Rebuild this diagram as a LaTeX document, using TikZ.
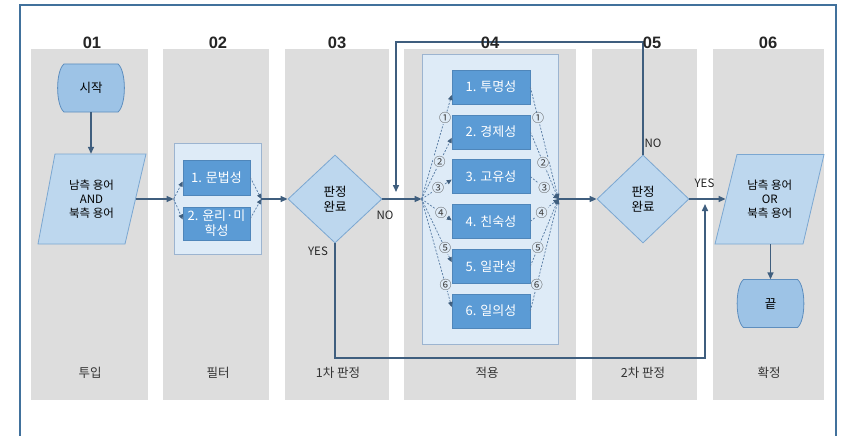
\documentclass[tikz,border=0pt]{standalone}
\usepackage{fontspec}
\setmainfont{Noto Sans CJK KR}
\newfontfamily\headfont{Liberation Sans}
\usetikzlibrary{shapes.geometric,arrows.meta,calc}
\definecolor{framec}{HTML}{41719C}
\definecolor{colgray}{HTML}{DDDDDD}
\definecolor{contfill}{HTML}{DEEBF7}
\definecolor{contdraw}{HTML}{9CB4D0}
\definecolor{boxfill}{HTML}{5B9BD5}
\definecolor{boxdraw}{HTML}{4F86BA}
\definecolor{shapefill}{HTML}{BDD7EE}
\definecolor{shapedraw}{HTML}{7BA7D1}
\definecolor{termfill}{HTML}{9DC3E6}
\definecolor{termdraw}{HTML}{5E8EBE}
\definecolor{linec}{HTML}{3F5E7E}
\definecolor{dashc}{HTML}{5C7FA6}
\newcommand\termpath[2]{\filldraw[fill=termfill, draw=termdraw, line width=0.8pt] (#1-27,#2-24) -- (#1+27,#2-24) .. controls (#1+35.5,#2-17) and (#1+35.5,#2+17) .. (#1+27,#2+24) -- (#1-27,#2+24) .. controls (#1-35.5,#2+17) and (#1-35.5,#2-17) .. (#1-27,#2-24) -- cycle;}
\begin{document}
\begin{tikzpicture}[x=1pt,y=-1pt,
  col/.style={fill=colgray, draw=none},
  hd/.style={font=\headfont\bfseries\fontsize{16.5}{19}\selectfont, text=black!85, inner sep=0pt},
  ft/.style={font=\fontsize{12.5}{15}\selectfont, text=black!80, inner sep=0pt},
  term/.style={rectangle, minimum width=66pt, minimum height=48pt, inner sep=0pt, font=\fontsize{12.5}{14}\selectfont},
  paratext/.style={rectangle, minimum width=88pt, minimum height=90pt, inner sep=0pt, align=center, font=\fontsize{11.5}{14}\selectfont},
  parafill/.style={fill=shapefill, draw=shapedraw, line width=0.8pt},
  dia/.style={diamond, fill=shapefill, draw=shapedraw, line width=0.8pt, minimum width=94pt, minimum height=88pt, inner sep=0pt, align=center, font=\fontsize{12.5}{15}\selectfont},
  cont/.style={rectangle, fill=contfill, draw=contdraw, line width=0.8pt, inner sep=0pt},
  bx/.style={rectangle, fill=boxfill, draw=boxdraw, line width=0.6pt, minimum width=78pt, minimum height=34pt, inner sep=0pt, text=white, align=center, font=\fontsize{13}{15}\selectfont},
  arr/.style={draw=linec, line width=1.5pt, -{Triangle[length=7pt,width=6pt]}},
  darr/.style={draw=dashc, line width=0.75pt, dash pattern=on 2pt off 1.5pt, -{Triangle[length=5pt,width=4.5pt,color=linec]}},
  num/.style={font=\fontsize{12}{13}\selectfont, inner sep=0.2pt, fill=contfill, text=black!75},
  yn/.style={font=\fontsize{11.5}{13}\selectfont, text=black!85, inner sep=0pt}]
\useasboundingbox (0,0) rectangle (844,436);
\fill[white] (0,0) rectangle (844,436);
% frame
\draw[framec, line width=2pt] (20,440) -- (20,5) -- (836,5) -- (836,440);
% columns
\fill[col] (31,49) rectangle (148,400);
\fill[col] (163,49) rectangle (269,400);
\fill[col] (285,49) rectangle (389,400);
\fill[col] (404,49) rectangle (576,400);
\fill[col] (592,49) rectangle (697,400);
\fill[col] (713,49) rectangle (824,400);
% containers
\node[cont, minimum width=87pt, minimum height=111pt] (filt) at (217.5,199) {};
\node[cont, minimum width=136pt, minimum height=290pt] (apply) at (490,199) {};
% shapes drawn directly
\termpath{91}{88}
\termpath{770.5}{303.5}
\filldraw[parafill] (55,154) -- (146,154) -- (125,244) -- (38,244) -- cycle;
\filldraw[parafill] (737,154.5) -- (824,154.5) -- (803,244) -- (715,244) -- cycle;
% nodes
\node[term] (start) at (91,88) {시작};
\node[paratext] (in) at (91.5,199) {남측 용어\\AND\\북측 용어};
\node[bx, minimum width=67pt, minimum height=35pt] (f1) at (216.5,177.5) {1. 문법성};
\node[bx, minimum width=67pt, minimum height=33pt] (f2) at (216.5,223.5) {2. 윤리·미\\학성};
\node[dia] (d1) at (335,199) {판정\\완료};
\node[bx] (b1) at (491,87) {1. 투명성};
\node[bx] (b2) at (491,131.8) {2. 경제성};
\node[bx] (b3) at (491,176.6) {3. 고유성};
\node[bx] (b4) at (491,221.4) {4. 친숙성};
\node[bx] (b5) at (491,266.2) {5. 일관성};
\node[bx] (b6) at (491,311) {6. 일의성};
\node[dia, minimum width=92pt] (d2) at (643,199) {판정\\완료};
\node[paratext] (out) at (769.75,199) {남측 용어\\OR\\북측 용어};
\node[term] (end) at (770.5,303.5) {끝};
% coordinates
\coordinate (fbtop) at (0,42);
\coordinate (fbend) at (396,192);
\coordinate (ybot) at (0,358);
\coordinate (yend) at (705,204);
% solid connectors
\draw[arr] (start.south) -- (start.south |- in.north);
\draw[arr] (in.east) -- (filt.west);
\draw[arr] (filt.east) -- (d1.west);
\draw[arr] (d1.east) -- (d1.east -| apply.west);
\draw[arr] (apply.east) -- (d2.west);
\draw[arr] (d2.east) -- (d2.east -| out.west);
\draw[arr] (end.north |- out.south) -- (end.north);
\draw[arr] (d2.north) -- (d2.north |- fbtop) -| (fbend);
\draw[arr] (d1.south) -- (d1.south |- ybot) -| (yend);
% filter dashed
\draw[darr] (filt.west) -- ([yshift=-4pt]f1.west);
\draw[darr] (filt.west) -- ([yshift=4pt]f2.west);
\draw[darr] (f1.east) -- (filt.east);
\draw[darr] ([yshift=5pt]f2.east) -- (filt.east);
% apply dashed
\coordinate (aL) at (apply.west);
\coordinate (aR) at (apply.east);
\draw[darr] (aL) -- node[num,pos=0.78]{①} ([yshift=-8pt]b1.west);
\draw[darr] (aL) -- node[num,pos=0.6]{②} ([yshift=-6pt]b2.west);
\draw[darr] (aL) -- node[num,pos=0.55]{③} ([yshift=-3pt]b3.west);
\draw[darr] (aL) -- node[num,pos=0.65]{④} ([yshift=1pt]b4.west);
\draw[darr] (aL) -- node[num,pos=0.78]{⑤} ([yshift=4pt]b5.west);
\draw[darr] (aL) -- node[num,pos=0.8]{⑥} ([yshift=4pt]b6.west);
\draw[darr] (b1.east) -- node[num,pos=0.28]{①} (aR);
\draw[darr] (b2.east) -- node[num,pos=0.46]{②} (aR);
\draw[darr] (b3.east) -- node[num,pos=0.5]{③} (aR);
\draw[darr] (b4.east) -- node[num,pos=0.4]{④} (aR);
\draw[darr] (b5.east) -- node[num,pos=0.27]{⑤} (aR);
\draw[darr] (b6.east) -- node[num,pos=0.23]{⑥} (aR);
% labels
\node[yn] (no1) at (385,215) {NO};
\node[yn] (yes1) at (318,251) {YES};
\node[yn] (no2) at (653,143) {NO};
\node[yn] (yes2) at (704.5,183) {YES};
% headers
\node[hd] (h1) at (92,42.5) {01};
\node[hd] (h2) at (218,42.5) {02};
\node[hd] (h3) at (337,42.5) {03};
\node[hd] (h4) at (490,42.5) {04};
\node[hd] (h5) at (652,42.5) {05};
\node[hd] (h6) at (768,42.5) {06};
% footers
\node[ft] (t1) at (90,373) {투입};
\node[ft] (t2) at (218,373) {필터};
\node[ft] (t3) at (338,373) {1차 판정};
\node[ft] (t4) at (487,373) {적용};
\node[ft] (t5) at (643,373) {2차 판정};
\node[ft] (t6) at (769,373) {확정};
\end{tikzpicture}
\end{document}
